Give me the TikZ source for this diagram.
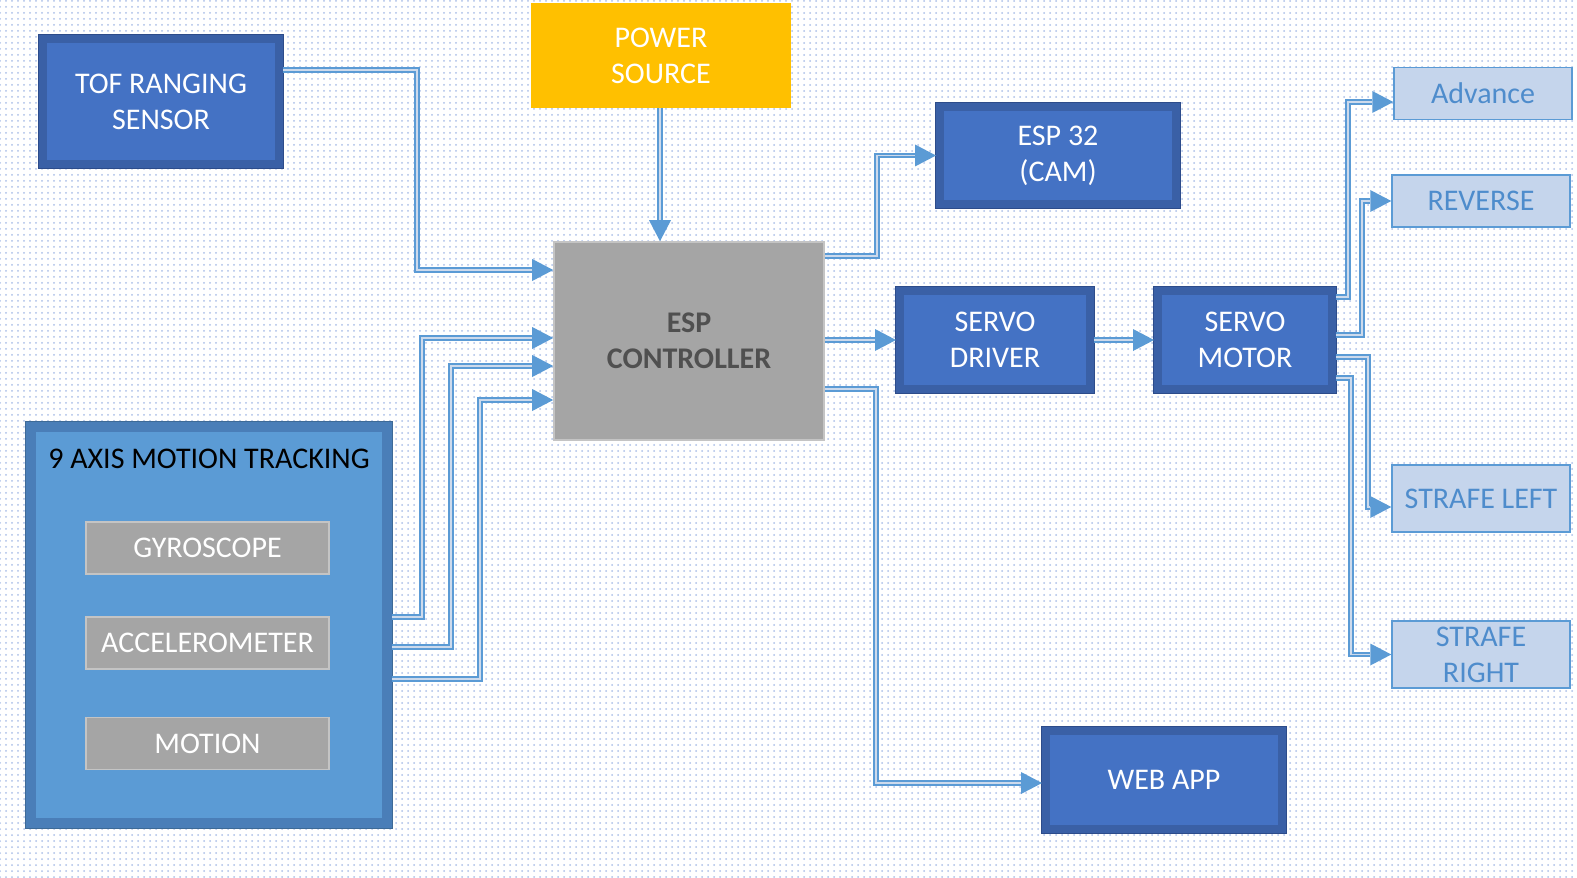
\documentclass[tikz,border=0pt]{standalone}
\usepackage{fontspec}
\setmainfont{Carlito}
\definecolor{boxblue}{RGB}{68, 114, 196}
\definecolor{frameblue}{RGB}{58, 96, 166}
\definecolor{edgeblue}{RGB}{45, 76, 138}
\definecolor{linkblue}{RGB}{91, 155, 213}
\definecolor{linkcore}{RGB}{205, 218, 236}
\definecolor{imublue}{RGB}{91, 155, 213}
\definecolor{imuframe}{RGB}{74, 126, 184}
\definecolor{imuedge}{RGB}{62, 106, 150}
\definecolor{chipgray}{RGB}{165, 165, 165}
\definecolor{chipedge}{RGB}{196, 196, 196}
\definecolor{ctltext}{RGB}{80, 80, 80}
\definecolor{powgold}{RGB}{255, 192, 0}
\definecolor{movefill}{RGB}{197, 213, 236}
\definecolor{movetext}{RGB}{78, 140, 204}
\definecolor{dotblue}{RGB}{172, 192, 232}
\usetikzlibrary{arrows.meta, patterns}

\begin{document}
\begin{tikzpicture}[x=0.5pt, y=-0.5pt,
  blk/.style={fill=boxblue, draw=frameblue, line width=4pt, preaction={draw=edgeblue, line width=5pt}, minimum width=118pt, minimum height=48.5pt, align=center, text=white, font=\fontsize{15}{18}\selectfont, inner sep=0pt},
  chip/.style={fill=chipgray, draw=chipedge, line width=0.6pt, minimum width=121.5pt, minimum height=26pt, text=white, font=\fontsize{15}{18}\selectfont, inner sep=0pt},
  move/.style={fill=movefill, draw=linkblue, line width=0.75pt, minimum width=89pt, minimum height=26pt, align=center, text=movetext, font=\fontsize{15}{18}\selectfont, inner sep=0pt},
  arr/.style={draw=linkblue, line width=2.8pt, -{Triangle[length=10.5pt, width=11pt, line width=0pt]}, postaction={draw=linkcore, line width=0.9pt, arrows=-, shorten >=10.5pt}},
]
  \useasboundingbox (0,0) rectangle (1577,877);
  \fill[white] (0,0) rectangle (1577,877);
  \fill[pattern=dots, pattern color=dotblue] (0,0) rectangle (1577,877);

  % Inputs
  \node[blk, minimum height=62.5pt] (tof) at (161,101.5) {TOF RANGING\\SENSOR};
  \node[fill=powgold, minimum width=130pt, minimum height=52.5pt, align=center, text=white, font=\fontsize{15}{18}\selectfont, inner sep=0pt] (pwr) at (661,55.5) {POWER\\SOURCE};
  \node[fill=imublue, draw=imuframe, line width=5pt, preaction={draw=imuedge, line width=6pt}, minimum width=178pt, minimum height=198pt] (imu) at (209,625) {};
  \node[font=\fontsize{15}{18}\selectfont, text=black, inner sep=0pt] (imut) at (209,459) {9 AXIS MOTION TRACKING};
  \node[chip] (gyr) at (207.5,548) {GYROSCOPE};
  \node[chip] (acc) at (207.5,643) {ACCELEROMETER};
  \node[chip] (mtn) at (207.5,743.5) {MOTION};

  % Center
  \node[fill=chipgray, draw=chipedge, line width=0.8pt, minimum width=135pt, minimum height=99pt, align=center, text=ctltext, font=\fontsize{15}{18}\selectfont\bfseries, inner sep=0pt] (ctl) at (689,341) {ESP\\CONTROLLER};

  % Outputs
  \node[blk, minimum height=48.5pt] (cam) at (1058,155.5) {ESP 32\\(CAM)};
  \node[blk, minimum width=95pt, minimum height=49pt] (drv) at (995,340) {SERVO\\DRIVER};
  \node[blk, minimum width=87pt, minimum height=49pt] (mot) at (1245,340) {SERVO\\MOTOR};
  \node[blk, minimum height=49pt] (web) at (1164,780) {WEB APP};

  % Movements
  \node[move] (adv) at (1483,93.5) {Advance};
  \node[move] (rev) at (1481,201) {REVERSE};
  \node[move, minimum height=33.5pt] (sl) at (1481,498.5) {STRAFE LEFT};
  \node[move, minimum height=33.5pt] (sr) at (1481,654.5) {STRAFE\\RIGHT};

  \draw[arr] (tof.east |- 0,70) -- (417,70) |- (ctl.west |- 0,270);
  \draw[arr] (pwr.south -| 660,0) -- (ctl.north -| 660,0);
  \draw[arr] (imu.east |- 0,617) -- (422,617) |- (ctl.west |- 0,338);
  \draw[arr] (imu.east |- 0,647) -- (451,647) |- (ctl.west |- 0,366);
  \draw[arr] (imu.east |- 0,679) -- (480,679) |- (ctl.west |- 0,400);

  \draw[arr] (ctl.east |- 0,256) -- (877,256) |- (cam.west);
  \draw[arr] (ctl.east |- drv.west) -- (drv.west);
  \draw[arr] (drv) -- (mot);
  \draw[arr] (ctl.east |- 0,389) -- (876,389) |- (web.west |- 0,783);

  \draw[arr] (mot.east |- 0,297) -- (1348,297) |- (adv.west |- 0,102);
  \draw[arr] (mot.east |- 0,335) -- (1362,335) |- (rev.west);
  \draw[arr] (mot.east |- 0,357) -- (1368,357) |- (sl.west |- 0,507);
  \draw[arr] (mot.east |- 0,378) -- (1351,378) |- (sr.west);
\end{tikzpicture}
\end{document}
